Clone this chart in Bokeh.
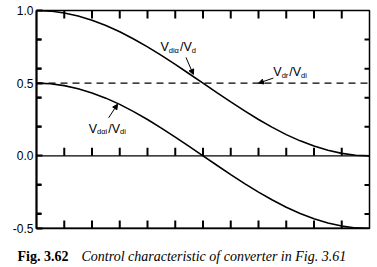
from bokeh.plotting import figure
from bokeh.models import (Range1d, LinearAxis, FixedTicker, Label, Arrow,
                          NormalHead)
from bokeh.layouts import column
from bokeh.core.properties import value
from bokeh.embed import file_html
from bokeh.resources import INLINE

# firing angle (deg) sampled along the horizontal axis
alpha = [0, 7.5, 15, 22.5, 30, 37.5, 45, 52.5, 60, 67.5, 75, 82.5, 90,
         97.5, 105, 112.5, 120, 127.5, 135, 142.5, 150, 157.5, 165, 172.5, 180]
# V_dia / V_d  (upper curve)
upper = [1.0, 0.996, 0.983, 0.962, 0.933, 0.897, 0.854, 0.804, 0.75, 0.691,
         0.629, 0.565, 0.5, 0.435, 0.371, 0.309, 0.25, 0.196, 0.146, 0.103,
         0.067, 0.038, 0.017, 0.004, 0.0]
# V_dαi / V_di  (lower curve)
lower = [0.5, 0.496, 0.483, 0.462, 0.433, 0.397, 0.354, 0.304, 0.25, 0.191,
         0.129, 0.065, 0.0, -0.065, -0.129, -0.191, -0.25, -0.304, -0.354,
         -0.397, -0.433, -0.462, -0.483, -0.496, -0.5]
# V_dr / V_di  (constant dashed line)
dashed_x = [0, 180]
dashed_y = [0.5, 0.5]

x_ticks = [15, 30, 45, 60, 75, 90, 105, 120, 135, 150, 165]
y_major = [-0.5, 0.0, 0.5, 1.0]
y_labels = ["-0.5", "0.0", "0.5", "1.0"]
y_minor = [-0.4, -0.2, 0.2, 0.4, 0.6, 0.8]
caption_bold = "Fig. 3.62"
caption_italic = "Control characteristic of converter in Fig. 3.61"

X0, X1, Y0, Y1 = 0, 180, -0.5, 1.0
p = figure(width=377, height=240, output_backend="svg", toolbar_location=None,
           x_range=Range1d(X0, X1), y_range=Range1d(Y0, Y1),
           min_border_left=36, min_border_right=8, min_border_top=10,
           min_border_bottom=12, x_axis_location=None, y_axis_location=None)
p.grid.visible = False
p.outline_line_color = "black"
p.outline_line_width = 1.5
p.frame_align = False

# left axis (labels and major ticks)
la = LinearAxis(ticker=FixedTicker(ticks=y_major, minor_ticks=y_minor),
                major_label_overrides=dict(zip(y_major, y_labels)))
la.major_tick_in = 6
la.major_tick_out = 0
la.minor_tick_in = 5
la.minor_tick_out = 0
la.minor_tick_line_width = 2
la.axis_line_width = 2
la.major_tick_line_width = 2
la.major_label_standoff = 3
la.major_label_text_font = "Liberation Sans"
la.major_label_text_font_size = "12px"
la.major_label_text_color = "black"
p.add_layout(la, "left")

# edge lines and curves
p.line([X0, X1], [Y0, Y0], line_color="black", line_width=2)
p.line([X0, X1], [0, 0], line_color="black", line_width=1.3)
p.line(alpha, upper, line_color="black", line_width=1.6)
p.line(alpha, lower, line_color="black", line_width=1.6)

# tick marks on top, bottom, zero line and right edge
n = len(x_ticks)
m = len(y_minor)
tick_style = dict(line_color="black", line_width=2, line_dash="solid")
p.segment(x0=x_ticks, y0=[Y1] * n, x1=x_ticks, y1=[Y1 - 0.055] * n, **tick_style)
p.segment(x0=x_ticks, y0=[Y0] * n, x1=x_ticks, y1=[Y0 + 0.055] * n, **tick_style)
p.segment(x0=x_ticks, y0=[0.0] * n, x1=x_ticks, y1=[0.055] * n, **tick_style)
p.segment(x0=[X1] * m, y0=y_minor, x1=[X1 - 2.7] * m, y1=y_minor, **tick_style)
p.segment(x0=[X0] * m, y0=y_minor, x1=[X0 + 2.7] * m, y1=y_minor, **tick_style)

# dashed reference line drawn last among the glyphs
p.line(dashed_x, dashed_y, line_color="black", line_width=1.3, line_dash="7 5")

CW = {"d": 0.556, "i": 0.222, "α": 0.58, "r": 0.333}


def ratio_label(x, y, num_sub, den_sub):
    font = "Liberation Sans"
    big, small = 12.5, 7.5
    w_v = 0.667 * big
    w_num = sum(CW[ch] for ch in num_sub) * small + 1
    w_slash = (0.278 + 0.667) * big
    parts = [("V", big, 0, 0), (num_sub, small, w_v, -3),
             ("/V", big, w_v + w_num, 0),
             (den_sub, small, w_v + w_num + w_slash, -3)]
    for txt, size, dx, dy in parts:
        p.add_layout(Label(x=x, y=y, text=txt, x_offset=dx, y_offset=dy,
                           text_font=font, text_font_size=f"{size}px",
                           text_baseline="alphabetic", text_align="left",
                           text_color="black"))


ratio_label(67.0, 0.746, "diα", "d")
ratio_label(128.0, 0.574, "dr", "di")
ratio_label(28.2, 0.188, "dαi", "di")

head = dict(size=5, fill_color="black", line_color="black")
p.add_layout(Arrow(end=NormalHead(**head), x_start=80.8, y_start=0.677,
                   x_end=84.8, y_end=0.56, line_width=1))
p.add_layout(Arrow(end=NormalHead(**head), x_start=128.0, y_start=0.535,
                   x_end=120.0, y_end=0.5, line_width=1))
p.add_layout(Arrow(end=NormalHead(**head), x_start=39.0, y_start=0.262,
                   x_end=43.8, y_end=0.355, line_width=1))

# caption strip (frame spans the whole strip, units are pixels)
c = figure(width=377, height=27, output_backend="svg", toolbar_location=None,
           x_range=Range1d(0, 377), y_range=Range1d(27, 0),
           min_border=0, min_border_left=0, min_border_right=0,
           min_border_top=0, min_border_bottom=0,
           x_axis_location=None, y_axis_location=None)
c.grid.visible = False
c.outline_line_color = None
c.frame_align = False
c.text(x=[17], y=[16], text=[caption_bold], text_font=value("Liberation Serif"),
       text_font_size="14px", text_font_style="bold", text_color="black",
       text_baseline="alphabetic")
c.text(x=[81], y=[16], text=[caption_italic],
       text_font=value("Liberation Serif"), text_font_size="14px",
       text_font_style="italic", text_color="black",
       text_baseline="alphabetic")

layout = column(p, c, spacing=0)
open("out.html", "w").write(file_html(layout, INLINE))
